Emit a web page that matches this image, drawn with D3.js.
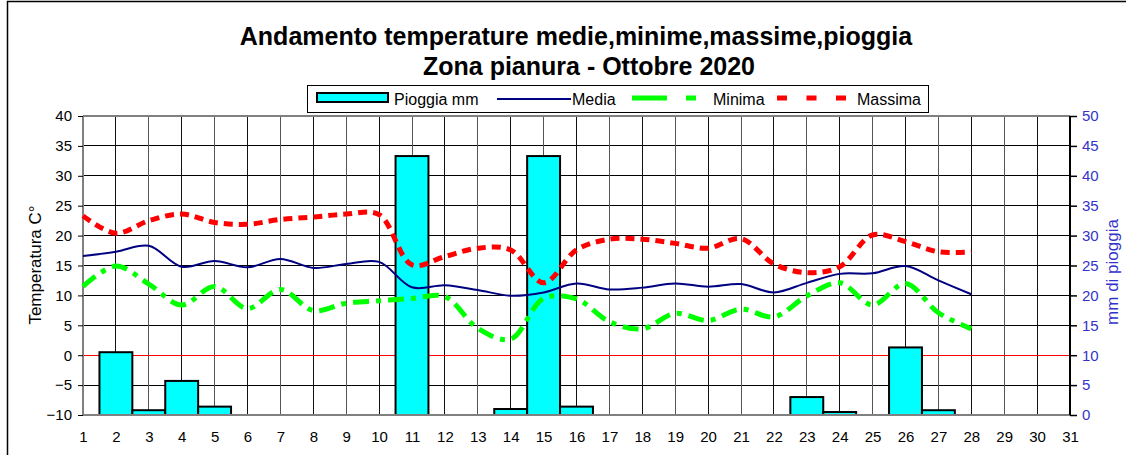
<!DOCTYPE html>
<html><head><meta charset="utf-8">
<script src="https://cdn.jsdelivr.net/npm/d3@7"></script>
<style>body{margin:0;background:#fff}svg{display:block;font-family:Arial,"Liberation Sans",sans-serif}</style>
</head><body>
<svg id="c" width="1126" height="455"></svg>
<script>
const days = d3.range(1, 32);
const media   = [16.6,17.3,18.3,14.8,15.75,14.7,16.1,14.6,15.25,15.6,11.35,11.7,10.9,9.95,10.5,12.0,11.0,11.3,12.0,11.45,11.9,10.5,12.1,13.6,13.7,14.9,12.5,10.2];
const minima  = [11.5,14.9,11.9,8.4,11.5,7.8,11.0,7.45,8.7,9.1,9.5,9.8,4.5,2.7,9.5,9.4,5.6,4.4,7.0,5.8,7.7,6.4,9.9,12.1,8.4,12.0,7.1,4.4];
const massima = [23.3,20.4,22.5,23.6,22.2,21.9,22.7,23.1,23.6,23.5,15.1,16.5,17.9,17.6,12.1,17.6,19.4,19.4,18.7,17.9,19.5,15.25,13.8,14.8,20.1,19.0,17.3,17.3];
const pioggia = [0,10.5,0.8,5.7,1.4,0,0,0,0,0,43.3,0,0,1.0,43.3,1.4,0,0,0,0,0,0,3.0,0.5,0,11.3,0.8,0,0,0,0];
const tempTicks = d3.range(-10, 41, 5);
const rainTicks = d3.range(0, 51, 5);
const titleLines = ["Andamento temperature medie,minime,massime,pioggia", "Zona pianura - Ottobre 2020"];

const svg = d3.select("#c");
const L = 83, R = 1070, T = 116, B = 415;
const x = d3.scaleLinear().domain([1, 31]).range([L, R]);
const yT = d3.scaleLinear().domain([-10, 40]).range([B, T]);
const yR = d3.scaleLinear().domain([0, 50]).range([B, T]);
const step = x(2) - x(1);
const FONT = "Arial,'Liberation Sans',sans-serif";

// outer border
svg.append("rect").attr("x", 7.5).attr("y", 1.5).attr("width", 1130).attr("height", 470)
  .attr("fill", "none").attr("stroke", "#000").attr("stroke-width", 1.5);

// title
svg.selectAll("text.title").data(titleLines).join("text").attr("class", "title")
  .attr("x", (d, i) => i ? 589 : 576).attr("y", (d, i) => 45 + i * 30).attr("text-anchor", "middle")
  .attr("font-size", 25).attr("font-weight", "bold").text(d => d);

// grid
const g = svg.append("g").attr("shape-rendering", "crispEdges");
g.selectAll("line.h").data(tempTicks.filter(t => t !== 0)).join("line")
  .attr("x1", L).attr("x2", R).attr("y1", d => yT(d)).attr("y2", d => yT(d))
  .attr("stroke", "#000").attr("stroke-width", 1);
g.selectAll("line.v").data(days.slice(1)).join("line")
  .attr("x1", d => x(d)).attr("x2", d => x(d)).attr("y1", T).attr("y2", B)
  .attr("stroke", (d, i) => i % 2 ? "#555" : "#111").attr("stroke-width", 1);
// zero line
g.append("line").attr("x1", L).attr("x2", R).attr("y1", yT(0)).attr("y2", yT(0))
  .attr("stroke", "#ff0000").attr("stroke-width", 1);

// bars
const bd = days.map((d, i) => ({d, v: pioggia[i]})).filter(o => o.v > 0);
svg.selectAll("rect.bar").data(bd).join("rect").attr("class", "bar")
  .attr("x", o => x(o.d) - step / 2).attr("width", step)
  .attr("y", o => yR(o.v)).attr("height", o => yR(0) - yR(o.v))
  .attr("fill", "#00ffff").attr("stroke", "#000").attr("stroke-width", 2);

// plot frame
svg.append("line").attr("x1", L).attr("x2", R).attr("y1", T).attr("y2", T).attr("stroke", "#808080").attr("stroke-width", 2);
svg.append("line").attr("x1", L).attr("x2", R).attr("y1", B).attr("y2", B).attr("stroke", "#808080").attr("stroke-width", 2);
svg.append("line").attr("x1", L).attr("x2", L).attr("y1", T).attr("y2", B).attr("stroke", "#808080").attr("stroke-width", 2);

// lines
const line = d3.line().x((v, i) => x(i + 1)).y(v => yT(v)).curve(d3.curveCatmullRom.alpha(0.5));
svg.append("path").attr("d", line(media)).attr("fill", "none").attr("stroke", "#000080").attr("stroke-width", 2);
svg.append("path").attr("d", line(minima)).attr("fill", "none").attr("stroke", "#00ff00").attr("stroke-width", 5)
  .attr("stroke-dasharray", "16,7,5,7");
svg.append("path").attr("d", line(massima)).attr("fill", "none").attr("stroke", "#ff0000").attr("stroke-width", 5)
  .attr("stroke-dasharray", "9,6");

// axes
const axL = svg.append("g").attr("transform", `translate(${L},0)`)
  .call(d3.axisLeft(yT).tickValues(tempTicks).tickSize(5).tickPadding(6));
axL.select(".domain").remove();
axL.selectAll("text").attr("font-size", 15).attr("font-family", FONT).attr("fill", "#000");
const axR = svg.append("g").attr("transform", `translate(${R},0)`)
  .call(d3.axisRight(yR).tickValues(rainTicks).tickSize(7).tickPadding(5));
axR.select(".domain").attr("stroke-width", 2).attr("d", `M0,${T}V${B}`);
axR.selectAll("line").attr("stroke-width", 1.5);
axR.selectAll("text").attr("font-size", 15).attr("font-family", FONT).attr("fill", "#3333cc");
const axB = svg.append("g").attr("transform", `translate(0,${B})`)
  .call(d3.axisBottom(x).tickValues(days).tickFormat(d3.format("d")).tickSize(0).tickPadding(16));
axB.select(".domain").remove();
axB.selectAll("text").attr("font-size", 15).attr("font-family", FONT).attr("fill", "#000");

// axis titles
svg.append("text").attr("transform", "translate(41,265) rotate(-90)").attr("text-anchor", "middle")
  .attr("font-size", 17).text("Temperatura C°");
svg.append("text").attr("transform", "translate(1118,272) rotate(-90)").attr("text-anchor", "middle")
  .attr("font-size", 17).attr("fill", "#3333cc").text("mm di pioggia");

// legend
const lg = svg.append("g");
lg.append("rect").attr("x", 307.5).attr("y", 85.5).attr("width", 621).attr("height", 27)
  .attr("fill", "#fff").attr("stroke", "#000").attr("stroke-width", 1);
lg.append("rect").attr("x", 317).attr("y", 93).attr("width", 71).attr("height", 9)
  .attr("fill", "#00ffff").attr("stroke", "#000").attr("stroke-width", 2);
lg.append("line").attr("x1", 497).attr("x2", 571).attr("y1", 99).attr("y2", 99).attr("stroke", "#000080").attr("stroke-width", 2);
lg.append("line").attr("x1", 632).attr("x2", 696).attr("y1", 98).attr("y2", 98).attr("stroke", "#00ff00").attr("stroke-width", 5)
  .attr("stroke-dasharray", "35,19,10,100");
lg.append("line").attr("x1", 777).attr("x2", 847).attr("y1", 98).attr("y2", 98).attr("stroke", "#ff0000").attr("stroke-width", 5)
  .attr("stroke-dasharray", "10,19.5");
const lt = [["Pioggia mm", 394], ["Media", 572], ["Minima", 713], ["Massima", 857]];
lg.selectAll("text").data(lt).join("text").attr("x", d => d[1]).attr("y", 104.5)
  .attr("font-size", 16).text(d => d[0]);
</script>
</body></html>
